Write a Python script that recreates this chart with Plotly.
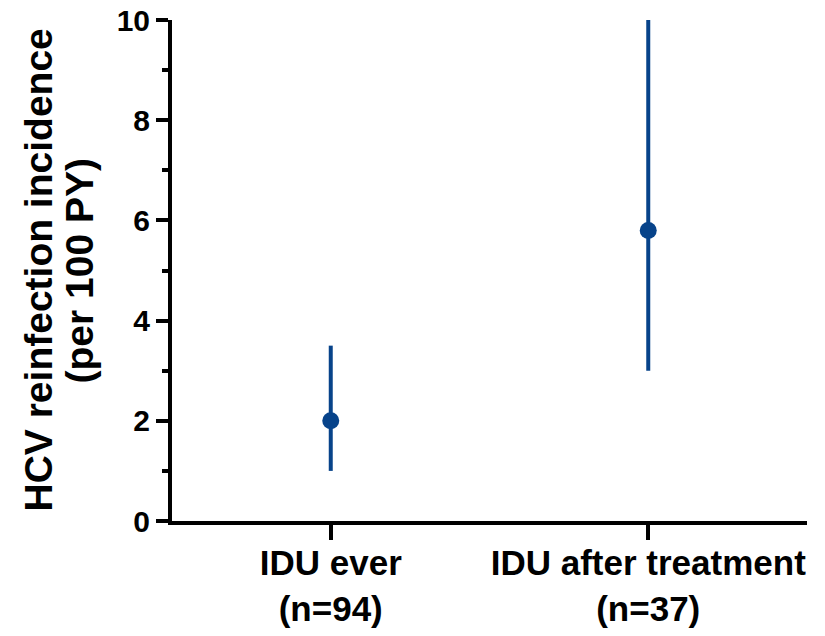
import plotly.graph_objects as go

categories = ["IDU ever<br>(n=94)", "IDU after treatment<br>(n=37)"]
incidence = [2.0, 5.8]
ci_low = [1.0, 3.0]
ci_high = [3.5, 10.0]
y_ticks = [0, 2, 4, 6, 8, 10]
y_title_lines = ["HCV reinfection incidence", "(per 100 PY)"]

blue = "#07438A"
bold = "Liberation Sans, Arial"

err_plus = [h - v for h, v in zip(ci_high, incidence)]
err_minus = [v - l for v, l in zip(incidence, ci_low)]

fig = go.Figure(go.Scatter(
    x=categories, y=incidence, mode="markers",
    marker=dict(size=17, color=blue),
    error_y=dict(type="data", array=err_plus, arrayminus=err_minus,
                 thickness=4, width=0, color=blue),
    cliponaxis=False, showlegend=False,
))

W, H = 825, 636
ml, mr, mt, mb = 172, 18, 20, 115
pw = W - ml - mr

fig.update_layout(
    width=W, height=H,
    margin=dict(l=ml, r=mr, t=mt, b=mb, autoexpand=False),
    paper_bgcolor="white", plot_bgcolor="white",
    font=dict(family=bold, color="black"),
)
fig.update_xaxes(
    range=[-0.5, 1.5], showgrid=False, zeroline=False, automargin=False,
    showline=True, linewidth=4, linecolor="black",
    ticks="outside", ticklen=15, tickwidth=4, tickcolor="black",
    ticklabelstandoff=-7,
    tickfont=dict(family=bold, size=35, color="black", weight="bold"),
)
fig.update_yaxes(
    range=[0, 10], tickvals=y_ticks, showgrid=False, zeroline=False, automargin=False,
    showline=True, linewidth=4, linecolor="black",
    ticks="outside", ticklen=12, tickwidth=4, tickcolor="black",
    tickfont=dict(family=bold, size=30, color="black", weight="bold"),
    minor=dict(dtick=1, ticks="outside", ticklen=6, tickwidth=4, tickcolor="black", showgrid=False),
)

for line, xpx in zip(y_title_lines, [38, 79]):
    fig.add_annotation(
        text=line, textangle=-90, showarrow=False,
        xref="paper", yref="paper", x=(xpx - ml) / pw, y=0.5,
        xanchor="center", yanchor="middle",
        font=dict(family=bold, size=39, color="black", weight="bold"),
    )

fig.write_html("out.html")
